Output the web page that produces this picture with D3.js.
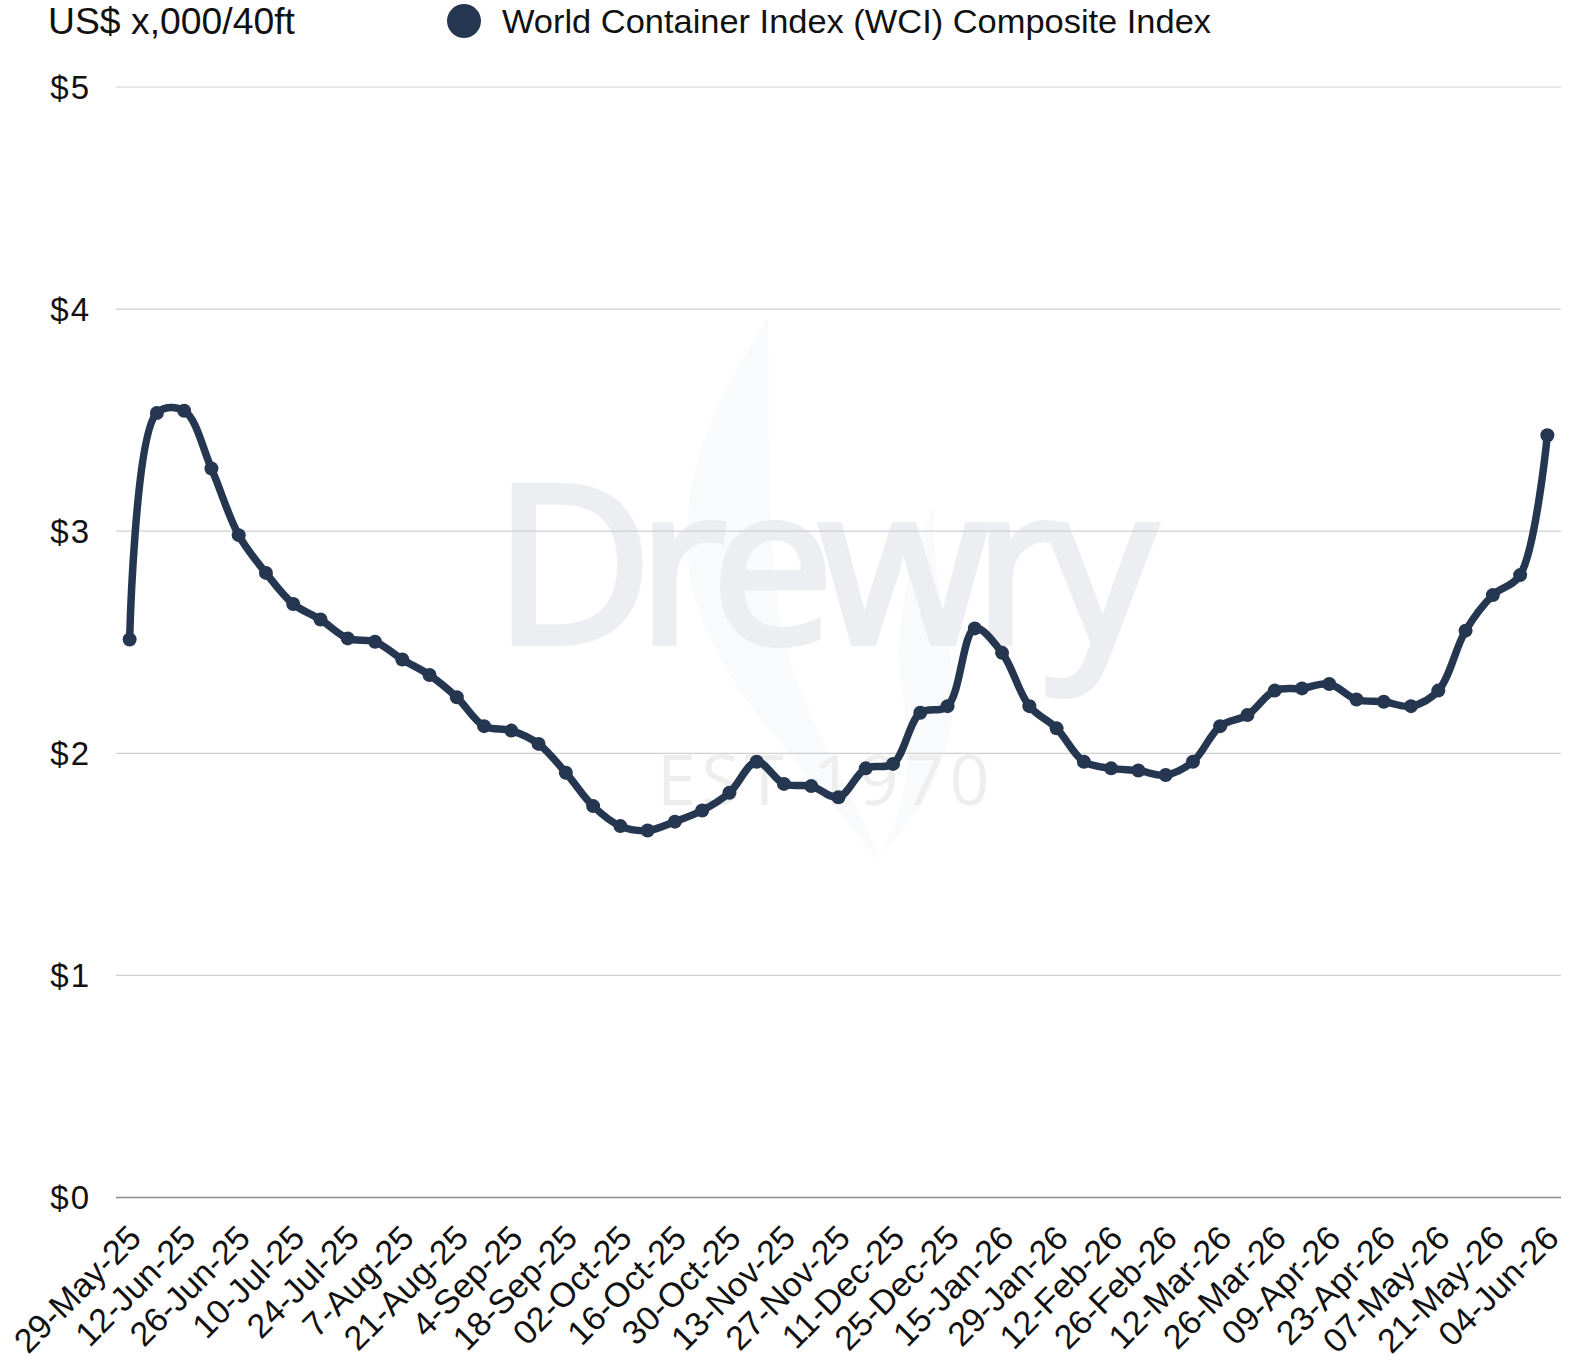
<!DOCTYPE html>
<html>
<head>
<meta charset="utf-8">
<script src="https://cdn.jsdelivr.net/npm/d3@7"></script>
<style>
  html, body { margin: 0; padding: 0; background: #ffffff; }
  svg { display: block; }
</style>
</head>
<body>
<div id="chart"></div>
<script>
// ---- data ----
const weeks = [
  "29-May-25","05-Jun-25","12-Jun-25","19-Jun-25","26-Jun-25","03-Jul-25","10-Jul-25","17-Jul-25",
  "24-Jul-25","31-Jul-25","7-Aug-25","14-Aug-25","21-Aug-25","28-Aug-25","4-Sep-25","11-Sep-25",
  "18-Sep-25","25-Sep-25","02-Oct-25","09-Oct-25","16-Oct-25","23-Oct-25","30-Oct-25","06-Nov-25",
  "13-Nov-25","20-Nov-25","27-Nov-25","04-Dec-25","11-Dec-25","18-Dec-25","25-Dec-25","08-Jan-26",
  "15-Jan-26","22-Jan-26","29-Jan-26","05-Feb-26","12-Feb-26","19-Feb-26","26-Feb-26","05-Mar-26",
  "12-Mar-26","19-Mar-26","26-Mar-26","02-Apr-26","09-Apr-26","16-Apr-26","23-Apr-26","30-Apr-26",
  "07-May-26","14-May-26","21-May-26","28-May-26","04-Jun-26"
];
const wciComposite = [
  2.51, 3.53, 3.54, 3.28, 2.98, 2.81, 2.67, 2.60, 2.515, 2.50,
  2.42, 2.35, 2.25, 2.12, 2.10, 2.04, 1.91, 1.76, 1.67, 1.65,
  1.69, 1.74, 1.82, 1.96, 1.86, 1.85, 1.80, 1.93, 1.95, 2.18,
  2.21, 2.56, 2.45, 2.21, 2.11, 1.96, 1.93, 1.92, 1.90, 1.96,
  2.12, 2.17, 2.28, 2.29, 2.31, 2.24, 2.23, 2.21, 2.28, 2.55,
  2.71, 2.80, 3.43
];
const tickLabels = weeks.filter((d, i) => i % 2 === 0);
const yTicks = [0, 1, 2, 3, 4, 5];
const seriesName = "World Container Index (WCI) Composite Index";
const unitLabel = "US$ x,000/40ft";

(function () {
// ---- layout ----
const W = 1576, H = 1362;
const mLeft = 116, mRight = 1561, mTop = 86.5, mBottom = 1197;
const lineColor = "#253750";
const font = "'Liberation Sans', Arial, sans-serif";

const svg = d3.select("#chart").append("svg")
  .attr("width", W).attr("height", H)
  .attr("viewBox", `0 0 ${W} ${H}`);

const x = d3.scalePoint().domain(weeks).range([mLeft, mRight]).padding(0.5);
const y = d3.scaleLinear().domain([0, 5]).range([mBottom, mTop]);

// watermark
const wm = svg.append("g").attr("class", "watermark");
wm.append("path")
  .attr("d", "M768,318 C720,390 680,470 688,560 C696,650 760,720 820,790 C850,825 870,850 880,862 C860,800 815,740 790,660 C765,570 770,470 768,318 Z")
  .attr("fill", "#f9fafb");
wm.append("path")
  .attr("d", "M935,505 C905,570 890,640 905,710 C915,770 900,820 878,858 C935,800 960,740 952,670 C946,610 930,570 935,505 Z")
  .attr("fill", "#f9fafb");
wm.append("text")
  .attr("x", 817).attr("y", 643)
  .attr("text-anchor", "middle")
  .attr("font-family", "'Open Sans', 'Liberation Sans', sans-serif")
  .attr("font-size", 220)
  .attr("fill", "#eceef2")
  .attr("stroke", "#eceef2")
  .attr("stroke-width", 6)
  .attr("letter-spacing", -16)
  .text("Drewry");
wm.append("text")
  .attr("x", 826).attr("y", 805)
  .attr("text-anchor", "middle")
  .attr("font-family", "'Open Sans', 'Liberation Sans', sans-serif")
  .attr("font-size", 70)
  .attr("fill", "#eeeeee")
  .attr("letter-spacing", 5.5)
  .text("EST 1970");

// gridlines + y labels
const yAxis = d3.axisLeft(y).tickValues(yTicks).tickSize(-(mRight - mLeft)).tickFormat(d => "$" + d);
const gy = svg.append("g").attr("transform", `translate(${mLeft},0)`).call(yAxis);
gy.select(".domain").remove();
gy.selectAll(".tick line")
  .attr("stroke", d => d === 0 ? "#8a8a8a" : "#cfcfcf")
  .attr("stroke-width", d => d === 0 ? 1.6 : 1.2);
gy.selectAll(".tick text")
  .attr("x", -25)
  .attr("dy", "0.35em")
  .attr("font-family", font)
  .attr("font-size", 33)
  .attr("letter-spacing", 2)
  .attr("fill", "#111");

// x axis labels
const xAxis = d3.axisBottom(x).tickValues(tickLabels).tickSize(0);
const gx = svg.append("g").attr("transform", `translate(0,${mBottom})`).call(xAxis);
gx.select(".domain").remove();
gx.selectAll(".tick text")
  .attr("font-family", font)
  .attr("font-size", 34)
  .attr("fill", "#111")
  .attr("text-anchor", "end")
  .attr("y", 0).attr("dy", 0)
  .attr("transform", "translate(13,43) rotate(-45)");

// line
const line = d3.line()
  .x((d, i) => x(weeks[i]))
  .y(d => y(d))
  .curve(d3.curveCatmullRom.alpha(0.5));
svg.append("path")
  .datum(wciComposite)
  .attr("fill", "none")
  .attr("stroke", lineColor)
  .attr("stroke-width", 7.5)
  .attr("stroke-linejoin", "round")
  .attr("stroke-linecap", "round")
  .attr("d", line);
svg.append("g").selectAll("circle")
  .data(wciComposite)
  .join("circle")
  .attr("cx", (d, i) => x(weeks[i]))
  .attr("cy", d => y(d))
  .attr("r", 7)
  .attr("fill", lineColor);

// unit label
svg.append("text")
  .attr("x", 48).attr("y", 34)
  .attr("font-family", "'Liberation Sans Narrow', " + font)
  .attr("font-size", 37)
  .attr("textLength", 247)
  .attr("lengthAdjust", "spacingAndGlyphs")
  .attr("fill", "#111")
  .text(unitLabel);

// legend
svg.append("circle").attr("cx", 464).attr("cy", 21).attr("r", 17).attr("fill", lineColor);
svg.append("text")
  .attr("x", 502).attr("y", 33)
  .attr("font-family", font)
  .attr("font-size", 34)
  .attr("textLength", 709)
  .attr("lengthAdjust", "spacingAndGlyphs")
  .attr("fill", "#111")
  .text(seriesName);
})();
</script>
</body>
</html>
